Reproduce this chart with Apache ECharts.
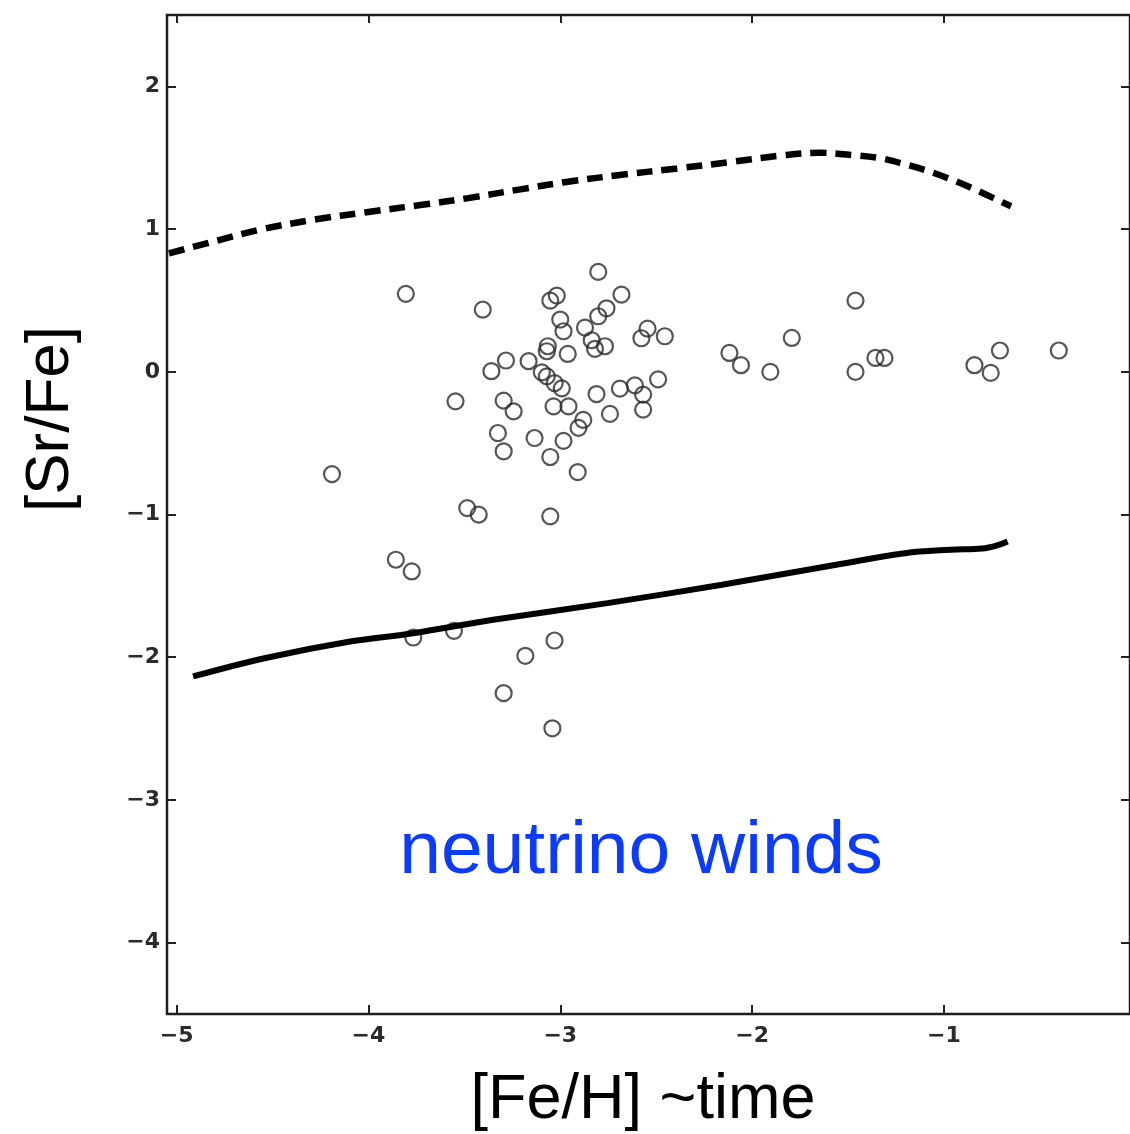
<!DOCTYPE html>
<html>
<head>
<meta charset="utf-8">
<script src="https://cdn.jsdelivr.net/npm/echarts@6/dist/echarts.min.js"></script>
<style>html,body{margin:0;padding:0;background:#fff}#c{width:1130px;height:1134px}</style>
</head>
<body>
<div id="c"></div>
<script>
// ---- data ----
const xTicks = [-5, -4, -3, -2, -1];
const yTicks = [-4, -3, -2, -1, 0, 1, 2];

// stars: [Fe/H]
const starFeH = [
  -3.805, -3.404, -2.802, -2.681, -1.461, -1.793, -2.118, -2.058, -1.905, -1.461,
  -1.357, -1.310, -0.841, -0.756, -0.708, -0.401,
  -3.052, -3.018, -3.000, -2.983, -2.871, -2.802, -2.759, -2.836, -2.819, -2.767,
  -2.577, -2.545, -2.455, -3.065, -3.070, -2.961, -3.165, -3.096, -3.070, -3.029,
  -2.992, -2.811, -2.689, -2.611, -2.568, -2.490, -2.568, -2.741, -3.035, -2.957,
  -2.880, -2.905, -2.983, -3.134, -3.052,
  -3.546, -3.359, -3.283, -3.295, -3.243, -3.325, -3.295,
  -4.190, -3.485, -3.425, -3.052, -2.909,
  -3.857, -3.774, -3.766, -3.554, -3.030, -3.182, -3.295, -3.041
];
// stars: [Sr/Fe]
const starSrFe = [
  0.546, 0.436, 0.700, 0.541, 0.499, 0.237, 0.132, 0.046, -0.001, -0.001,
  0.097, 0.097, 0.046, -0.008, 0.149, 0.149,
  0.499, 0.534, 0.366, 0.284, 0.309, 0.389, 0.445, 0.221, 0.161, 0.179,
  0.235, 0.302, 0.249, 0.179, 0.144, 0.125, 0.074, -0.004, -0.032, -0.079,
  -0.116, -0.156, -0.118, -0.095, -0.160, -0.053, -0.265, -0.295, -0.242, -0.242,
  -0.337, -0.393, -0.484, -0.464, -0.597,
  -0.207, 0.004, 0.079, -0.202, -0.277, -0.429, -0.557,
  -0.717, -0.955, -1.001, -1.013, -0.703,
  -1.317, -1.399, -1.862, -1.815, -1.883, -1.990, -2.252, -2.498
];

// model curves
const upperFeH = [-5.04, -4.80, -4.56, -4.28, -4.01, -3.72, -3.48, -3.20, -2.96, -2.68, -2.39, -2.10, -1.85, -1.65, -1.47, -1.33, -1.20, -1.07, -0.94, -0.82, -0.69, -0.65];
const upperSrFe = [0.83, 0.915, 0.997, 1.067, 1.118, 1.17, 1.217, 1.28, 1.332, 1.38, 1.425, 1.472, 1.515, 1.535, 1.518, 1.496, 1.453, 1.401, 1.336, 1.266, 1.184, 1.16];

const lowerFeH = [-4.914, -4.542, -4.095, -3.767, -3.35, -2.754, -2.157, -1.561, -1.204, -0.965, -0.80, -0.72, -0.668];
const lowerSrFe = [-2.135, -2.007, -1.890, -1.832, -1.738, -1.621, -1.492, -1.352, -1.271, -1.247, -1.238, -1.215, -1.189];

const xTitle = '[Fe/H] ~time';
const yTitle = '[Sr/Fe]';
const note = 'neutrino winds';

// ---- chart ----
const zip = (a, b) => a.map((v, i) => [v, b[i]]);
const stars = zip(starFeH, starSrFe);
const fmt = v => (v < 0 ? '\u2212' : '') + Math.abs(v);

const tickStyle = { show: true, inside: true, length: 9, lineStyle: { color: '#222', width: 2 } };
const labelStyle = { fontFamily: 'DejaVu Sans', fontSize: 22, fontWeight: 'bold', color: '#2a2a2a' };
const noLine = { show: false, onZero: false };

const chart = echarts.init(document.getElementById('c'), null, { renderer: 'canvas' });
chart.setOption({
  animation: false,
  backgroundColor: '#fff',
  grid: { left: 167, top: 15, right: -4, bottom: 120, show: true, borderColor: '#1e1e1e', borderWidth: 2.5, backgroundColor: 'transparent' },
  xAxis: [
    { type: 'value', min: -5.05, max: -0.03, position: 'bottom',
      axisLine: noLine, splitLine: { show: false },
      axisTick: Object.assign({ customValues: xTicks }, tickStyle),
      axisLabel: Object.assign({ customValues: xTicks, formatter: fmt, margin: 11 }, labelStyle) },
    { type: 'value', min: -5.05, max: -0.03, position: 'top',
      axisLine: noLine, splitLine: { show: false },
      axisTick: Object.assign({ customValues: xTicks }, tickStyle, { length: 8 }),
      axisLabel: { show: false } }
  ],
  yAxis: [
    { type: 'value', min: -4.5, max: 2.5, position: 'left',
      axisLine: noLine, splitLine: { show: false },
      axisTick: Object.assign({ customValues: yTicks }, tickStyle),
      axisLabel: Object.assign({ customValues: yTicks, formatter: fmt, margin: 7 }, labelStyle) },
    { type: 'value', min: -4.5, max: 2.5, position: 'right',
      axisLine: noLine, splitLine: { show: false },
      axisTick: Object.assign({ customValues: yTicks }, tickStyle),
      axisLabel: { show: false } }
  ],
  series: [
    { type: 'line', data: zip(upperFeH, upperSrFe), smooth: 0.35, showSymbol: false, silent: true,
      lineStyle: { color: '#000', width: 6.5, type: [16, 9] } },
    { type: 'line', data: zip(lowerFeH, lowerSrFe), smooth: 0.35, showSymbol: false, silent: true,
      lineStyle: { color: '#000', width: 6 } },
    { type: 'scatter', data: stars, symbol: 'circle', symbolSize: 17, silent: true,
      itemStyle: { color: '#fff', borderWidth: 0 } },
    { type: 'scatter', data: stars, symbol: 'circle', symbolSize: 16, silent: true,
      itemStyle: { color: 'rgba(0,0,0,0)', borderColor: '#2b2b2b', borderWidth: 2.2 } }
  ],
  graphic: [
    { type: 'text', x: 643, y: 1101, style: { text: xTitle, fontFamily: 'Liberation Sans', fontSize: 63, fill: '#000', textAlign: 'center', textVerticalAlign: 'middle' } },
    { type: 'text', x: 51, y: 419, rotation: Math.PI / 2, style: { text: yTitle, fontFamily: 'Liberation Sans', fontSize: 62, fill: '#000', textAlign: 'center', textVerticalAlign: 'middle' } },
    { type: 'text', x: 641, y: 852, style: { text: note, fontFamily: 'Liberation Sans', fontSize: 75, fill: '#0a3bff', textAlign: 'center', textVerticalAlign: 'middle' } }
  ]
});
</script>
</body>
</html>
